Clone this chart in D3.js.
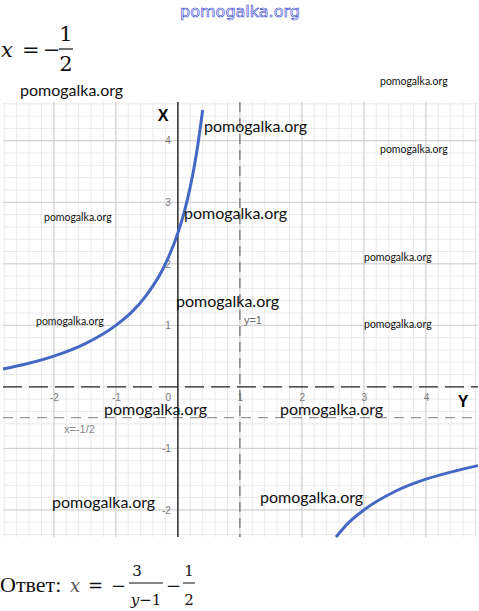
<!DOCTYPE html>
<html>
<head>
<meta charset="utf-8">
<script src="https://cdn.jsdelivr.net/npm/d3@7"></script>
<style>
  body { margin: 0; background: #fff; }
  svg { display: block; }
</style>
</head>
<body>
<div id="chart"></div>
<script>
// ticks on the horizontal (Y) and vertical (X) axes
var yTicks = [-2, -1, 0, 1, 2, 3, 4];
var xTicks = [-2, -1, 1, 2, 3, 4];

// points of the curve: [Y, X]
var leftBranch = [[-2.82, 0.29], [-2.5, 0.36], [-2, 0.5], [-1.5, 0.7], [-1, 1.0], [-0.75, 1.21],
                  [-0.5, 1.5], [-0.25, 1.9], [0, 2.5], [0.1, 2.83], [0.2, 3.25], [0.3, 3.79], [0.4, 4.5]];
var rightBranch = [[2.55, -2.44], [2.75, -2.21], [3, -2.0], [3.5, -1.7], [4, -1.5], [4.5, -1.36], [4.84, -1.28]];

// asymptotes
var asymY = 1, asymX = -0.5;

// watermarks: [text x, center y, size]
var marks = [[20, 91, 16], [204, 127, 16], [184, 214, 16], [176, 302, 16], [104, 410, 16],
             [280, 410, 16], [52, 503, 16], [260, 498, 16],
             [380, 82, 10.5], [380, 150, 10.5], [44, 218, 10.5], [364, 258, 10.5], [36, 322, 10.5], [364, 325, 10.5]];

var svg = d3.select("#chart").append("svg").attr("width", 479).attr("height", 611);

var xScale = d3.scaleLinear().domain([-2.82, 4.84]).range([3, 478]);
var yScale = d3.scaleLinear().domain([-2.44, 4.63]).range([537, 102]);

var g = svg.append("g");

// minor grid
g.selectAll(".vminor").data(xScale.ticks(40)).enter().append("line")
  .attr("x1", d => xScale(d)).attr("x2", d => xScale(d))
  .attr("y1", 102).attr("y2", 537)
  .attr("stroke", "#eaeaea").attr("stroke-width", 1);
g.selectAll(".hminor").data(yScale.ticks(36)).enter().append("line")
  .attr("y1", d => yScale(d)).attr("y2", d => yScale(d))
  .attr("x1", 3).attr("x2", 478)
  .attr("stroke", "#eaeaea").attr("stroke-width", 1);

// major grid
g.selectAll(".vmajor").data(yTicks).enter().append("line")
  .attr("x1", d => xScale(d)).attr("x2", d => xScale(d))
  .attr("y1", 102).attr("y2", 537)
  .attr("stroke", "#cfcfcf").attr("stroke-width", 1);
g.selectAll(".hmajor").data(xTicks).enter().append("line")
  .attr("y1", d => yScale(d)).attr("y2", d => yScale(d))
  .attr("x1", 3).attr("x2", 478)
  .attr("stroke", "#cfcfcf").attr("stroke-width", 1);

// asymptotes
g.append("line")
  .attr("x1", xScale(asymY)).attr("x2", xScale(asymY)).attr("y1", 102).attr("y2", 537)
  .attr("stroke", "#777").attr("stroke-width", 1.3).attr("stroke-dasharray", "10,6");
g.append("line")
  .attr("x1", 3).attr("x2", 478).attr("y1", yScale(asymX)).attr("y2", yScale(asymX))
  .attr("stroke", "#999").attr("stroke-width", 1.3).attr("stroke-dasharray", "10,7");

// axes lines
g.append("line")
  .attr("x1", xScale(0)).attr("x2", xScale(0)).attr("y1", 102).attr("y2", 537)
  .attr("stroke", "#222").attr("stroke-width", 1.4);
g.append("line")
  .attr("x1", 3).attr("x2", 478).attr("y1", yScale(0)).attr("y2", yScale(0))
  .attr("stroke", "#222").attr("stroke-width", 1.3).attr("stroke-dasharray", "19,7");

// tick labels
var bottomAxis = g.append("g")
  .attr("transform", "translate(0," + yScale(0) + ")")
  .call(d3.axisBottom(xScale).tickValues(yTicks).tickSize(0).tickPadding(7).tickFormat(d => String(d)));
bottomAxis.select(".domain").remove();
bottomAxis.selectAll("text")
  .attr("font-family", "Liberation Sans, Arial, sans-serif").attr("font-size", 10).attr("fill", "#777")
  .attr("dx", d => d === 0 ? -10 : 0);

var leftAxis = g.append("g")
  .attr("transform", "translate(" + xScale(0) + ",0)")
  .call(d3.axisLeft(yScale).tickValues(xTicks).tickSize(0).tickPadding(7).tickFormat(d => String(d)));
leftAxis.select(".domain").remove();
leftAxis.selectAll("text")
  .attr("font-family", "Liberation Sans, Arial, sans-serif").attr("font-size", 10).attr("fill", "#777");

// axis titles
g.append("text").attr("x", 163).attr("y", 121).attr("text-anchor", "middle")
  .attr("font-family", "Liberation Sans, Arial, sans-serif").attr("font-weight", "bold").attr("font-size", 16)
  .text("X");
g.append("text").attr("x", 463).attr("y", 407).attr("text-anchor", "middle")
  .attr("font-family", "Liberation Sans, Arial, sans-serif").attr("font-weight", "bold").attr("font-size", 16)
  .text("Y");

// asymptote labels
g.append("text").attr("x", xScale(asymY) + 4).attr("y", 324)
  .attr("font-family", "Liberation Sans, Arial, sans-serif").attr("font-size", 11).attr("fill", "#666")
  .text("y=1");
g.append("text").attr("x", 64).attr("y", 433)
  .attr("font-family", "Liberation Sans, Arial, sans-serif").attr("font-size", 11).attr("fill", "#888")
  .text("x=-1/2");

// curve
var line = d3.line()
  .x(d => xScale(d[0]))
  .y(d => yScale(d[1]))
  .curve(d3.curveMonotoneX);

g.selectAll(".branch").data([leftBranch, rightBranch]).enter().append("path")
  .attr("class", "branch")
  .attr("d", line)
  .attr("fill", "none")
  .attr("stroke", "#4468c4")
  .attr("stroke-width", 3);

// watermarks
svg.selectAll(".mark").data(marks).enter().append("text")
  .attr("x", d => d[0]).attr("y", d => d[1])
  .attr("dy", "0.32em")
  .attr("font-family", "Lato, sans-serif")
  .attr("font-size", d => d[2])
  .attr("fill", "#111")
  .text("pomogalka.org");

svg.append("text").attr("x", 240).attr("y", 17).attr("text-anchor", "middle")
  .attr("font-family", "DejaVu Sans, sans-serif").attr("font-size", 16)
  .attr("fill", "#fff").attr("stroke", "#3040d0").attr("stroke-width", 0.6)
  .text("pomogalka.org");

// formula on top: x = -1/2
var serif = "DejaVu Serif, Liberation Serif, serif";
var head = svg.append("g").attr("font-family", serif).attr("font-size", 21).attr("fill", "#111");
head.append("text").attr("x", 1).attr("y", 57).attr("font-style", "italic").text("x");
head.append("text").attr("x", 22).attr("y", 57).text("=");
head.append("text").attr("x", 43).attr("y", 57).text("\u2212");
head.append("text").attr("x", 66).attr("y", 41).attr("text-anchor", "middle").text("1");
head.append("line").attr("x1", 59).attr("x2", 73).attr("y1", 49).attr("y2", 49).attr("stroke", "#111").attr("stroke-width", 1.2);
head.append("text").attr("x", 66).attr("y", 71).attr("text-anchor", "middle").text("2");

// answer at bottom
var ans = svg.append("g").attr("font-family", serif).attr("fill", "#111");
ans.append("text").attr("x", 0).attr("y", 592).attr("font-size", 22).attr("font-family", "Liberation Serif, serif").text("Ответ:");
ans.append("text").attr("x", 70).attr("y", 592).attr("font-size", 18).attr("font-style", "italic").attr("fill", "#555").text("x");
ans.append("text").attr("x", 88).attr("y", 592).attr("font-size", 18).text("=");
ans.append("text").attr("x", 111).attr("y", 592).attr("font-size", 18).text("\u2212");
ans.append("text").attr("x", 137).attr("y", 576).attr("font-size", 15).attr("text-anchor", "middle").text("3");
ans.append("line").attr("x1", 129).attr("x2", 163).attr("y1", 583).attr("y2", 583).attr("stroke", "#111").attr("stroke-width", 1);
ans.append("text").attr("x", 146).attr("y", 605).attr("font-size", 15).attr("text-anchor", "middle")
  .html('<tspan font-style="italic">y</tspan>\u22121');
ans.append("text").attr("x", 166).attr("y", 592).attr("font-size", 18).text("\u2212");
ans.append("text").attr("x", 189).attr("y", 576).attr("font-size", 15).attr("text-anchor", "middle").text("1");
ans.append("line").attr("x1", 183).attr("x2", 195).attr("y1", 583).attr("y2", 583).attr("stroke", "#111").attr("stroke-width", 1);
ans.append("text").attr("x", 189).attr("y", 605).attr("font-size", 15).attr("text-anchor", "middle").text("2");
</script>
</body>
</html>
